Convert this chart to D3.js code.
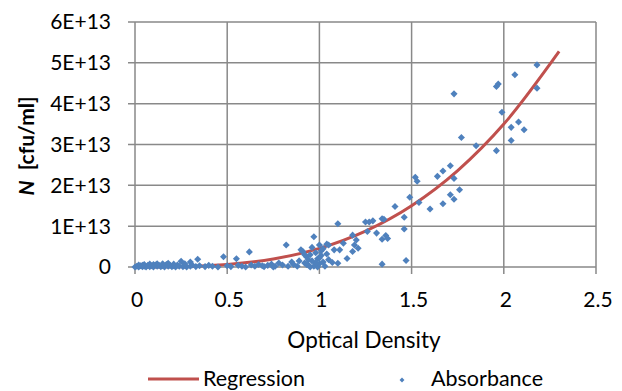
<!DOCTYPE html>
<html>
<head>
    <script src="https://d3js.org/d3.v7.min.js"></script>
    <style>
        body { margin: 0; background: #fff; }
        svg { display: block; font-family: Lato, "Open Sans", sans-serif; }
        .grid line { stroke: #898989; stroke-width: 1.5; }
        .tick-label { font-size: 21px; fill: #000; }
    </style>
</head>
<body>
<div id="chart"></div>
<script>
    // tick labels
    const xTicks = [0, 0.5, 1, 1.5, 2, 2.5];
    const yTicks = [0, 1, 2, 3, 4, 5, 6];
    const yTickLabels = ["0", "1E+13", "2E+13", "3E+13", "4E+13", "5E+13", "6E+13"];

    // regression line (N in units of 1E+13)
    const regressionOD = [0, 0.1, 0.2, 0.3, 0.5, 0.75, 1, 1.25, 1.5, 1.75, 2, 2.3];
    const regressionN = [0, 0.0005, 0.004, 0.013, 0.06, 0.196, 0.456, 0.879, 1.50, 2.36, 3.50, 5.28];

    // measured points [optical density, N / 1E+13]
    const absorbance = [
        [0.00,0.00],[0.01,0.02],[0.02,0.00],[0.02,0.05],[0.03,0.03],[0.04,0.01],[0.05,0.02],[0.05,0.06],
        [0.06,0.00],[0.07,0.04],[0.08,0.01],[0.08,0.07],[0.09,0.03],[0.10,0.00],[0.11,0.05],[0.12,0.02],
        [0.12,0.08],[0.13,0.04],[0.14,0.01],[0.15,0.03],[0.15,0.08],[0.16,0.00],[0.17,0.06],[0.18,0.02],
        [0.18,0.09],[0.19,0.04],[0.20,0.01],[0.21,0.03],[0.22,0.00],[0.23,0.05],[0.24,0.02],[0.25,0.14],
        [0.26,0.01],[0.27,0.04],[0.28,0.00],[0.30,0.12],[0.30,0.02],[0.31,0.05],[0.33,0.01],[0.34,0.19],
        [0.35,0.03],[0.04,0.04],[0.10,0.06],[0.21,0.07],[0.27,0.08],
        [0.38,0.01],[0.40,0.04],[0.42,0.02],[0.45,0.00],[0.48,0.25],[0.50,0.03],[0.52,0.01],[0.55,0.20],
        [0.56,0.04],[0.58,0.02],[0.60,0.00],[0.62,0.37],[0.63,0.05],[0.65,0.02],[0.67,0.06],[0.70,0.01],
        [0.72,0.04],[0.74,0.07],[0.76,0.02],[0.78,0.10],[0.80,0.05],[0.82,0.54],[0.83,0.02],[0.85,0.12],
        [0.86,0.06],[0.88,0.02],[0.89,0.15],[0.69,0.03],[0.75,0.00],
        [0.90,0.42],[0.91,0.38],[0.92,0.10],[0.93,0.25],[0.94,0.05],[0.95,0.30],[0.96,0.15],[0.97,0.74],
        [0.97,0.02],[0.98,0.35],[0.99,0.20],[0.99,0.00],[1.00,0.08],[1.00,0.54],[1.01,0.28],[1.01,0.40],
        [1.02,0.45],[1.02,0.12],[1.03,0.02],[1.04,0.32],[1.04,0.56],[1.05,0.18],[0.96,0.48],[0.93,0.06],
        [0.95,0.00],[0.98,0.10],[1.00,0.22],[0.92,0.30],[0.94,0.18],
        [1.05,0.54],[1.07,0.11],[1.08,0.42],[1.10,0.09],[1.10,1.06],[1.11,0.42],[1.13,0.58],[1.15,0.21],
        [1.18,0.78],[1.18,0.38],[1.19,0.54],[1.20,0.66],[1.21,0.46],[1.25,1.10],[1.26,0.87],[1.27,1.10],
        [1.29,1.13],[1.31,0.83],[1.34,0.68],[1.34,0.07],[1.34,1.18],[1.35,1.17],[1.36,0.77],[1.37,0.70],
        [1.41,1.48],[1.46,1.22],[1.46,0.93],[1.47,0.16],[1.49,1.71],[1.52,2.20],[1.53,2.10],[1.54,1.58],
        [1.60,1.42],[1.64,2.22],[1.67,2.35],[1.67,1.55],[1.71,2.48],[1.71,1.77],[1.73,2.17],[1.73,1.66],
        [1.73,4.24],[1.76,1.89],[1.77,3.17],[1.85,2.97],[1.96,4.42],[1.97,4.48],[1.96,2.85],[1.99,3.79],
        [2.04,3.42],[2.08,3.55],[2.11,3.36],[2.04,3.10],[2.06,4.71],[2.18,4.95],[2.18,4.38]
    ];

    const width = 622, height = 391;
    const red = "#C0504D", blue = "#4F81BD";

    const svg = d3.select("#chart").append("svg")
        .attr("width", width)
        .attr("height", height);

    const x = d3.scaleLinear().domain([0, 2.5]).range([135, 596]);
    const y = d3.scaleLinear().domain([0, 6]).range([267, 22]);

    // gridlines + tick marks
    const grid = svg.append("g").attr("class", "grid");
    grid.selectAll(".h").data(yTicks).enter().append("line")
        .attr("x1", 128).attr("x2", x(2.5))
        .attr("y1", d => y(d)).attr("y2", d => y(d));
    grid.selectAll(".v").data(xTicks).enter().append("line")
        .attr("x1", d => x(d)).attr("x2", d => x(d))
        .attr("y1", y(6)).attr("y2", 274);

    // tick labels
    svg.append("g").selectAll("text").data(yTicks).enter().append("text")
        .attr("class", "tick-label")
        .attr("x", 111)
        .attr("y", d => y(d))
        .attr("dy", "0.35em")
        .attr("text-anchor", "end")
        .text((d, i) => yTickLabels[i]);

    svg.append("g").selectAll("text").data(xTicks).enter().append("text")
        .attr("class", "tick-label")
        .attr("x", d => x(d) + 2)
        .attr("y", 300)
        .attr("dy", "0.35em")
        .attr("text-anchor", "middle")
        .text(d => d);

    // axis titles
    svg.append("text")
        .attr("x", 364).attr("y", 340)
        .attr("dy", "0.35em")
        .attr("text-anchor", "middle")
        .style("font-size", "22.5px")
        .text("Optical Density");

    const yTitle = svg.append("text")
        .attr("transform", "translate(27,146) rotate(-90)")
        .attr("dy", "0.35em")
        .attr("text-anchor", "middle")
        .style("font-size", "21px")
        .style("font-weight", "bold");
    yTitle.append("tspan").style("font-style", "italic").text("N");
    yTitle.append("tspan").attr("xml:space", "preserve").text("  [cfu/ml]");

    // regression line
    const line = d3.line()
        .x((d, i) => x(regressionOD[i]))
        .y(d => y(d))
        .curve(d3.curveMonotoneX);

    svg.append("path")
        .datum(regressionN)
        .attr("d", line)
        .attr("fill", "none")
        .attr("stroke", red)
        .attr("stroke-width", 3);

    // points (Excel-style diamonds: rotated squares)
    const diamond = d3.symbol().type(d3.symbolSquare).size(25);
    svg.append("g").selectAll("path").data(absorbance).enter().append("path")
        .attr("d", diamond)
        .attr("transform", d => `translate(${x(d[0])},${y(d[1])}) rotate(45)`)
        .attr("fill", blue);

    // legend
    const legend = svg.append("g");
    legend.append("line")
        .attr("x1", 148).attr("x2", 199)
        .attr("y1", 379).attr("y2", 379)
        .attr("stroke", red).attr("stroke-width", 3);
    legend.append("text")
        .attr("x", 203).attr("y", 378).attr("dy", "0.35em")
        .style("font-size", "21.5px")
        .text("Regression");
    legend.append("path")
        .attr("d", d3.symbol().type(d3.symbolSquare).size(12))
        .attr("transform", "translate(402,380) rotate(45)")
        .attr("fill", blue);
    legend.append("text")
        .attr("x", 431).attr("y", 378).attr("dy", "0.35em")
        .style("font-size", "21.5px")
        .text("Absorbance");
</script>
</body>
</html>
